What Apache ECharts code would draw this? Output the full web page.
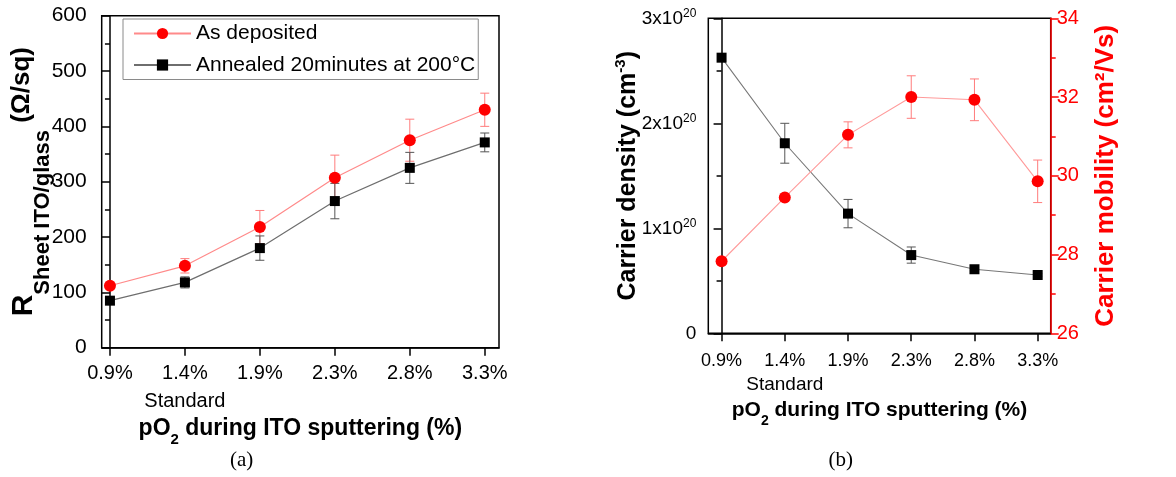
<!DOCTYPE html>
<html>
<head>
<meta charset="utf-8">
<script src="https://cdn.jsdelivr.net/npm/echarts@6/dist/echarts.min.js"></script>
<style>
html,body{margin:0;padding:0;background:#fff;}
#chart{width:1176px;height:477px;}
</style>
</head>
<body>
<div id="chart"></div>
<script>
// ---- data ----
const categories = ['0.9%', '1.4%', '1.9%', '2.3%', '2.8%', '3.3%'];
const categoryNotes = ['', 'Standard', '', '', '', ''];

// (a) sheet resistance (Ω/sq)
const asDeposited = [112, 148, 218, 307, 375, 430];
const asDepositedErr = [5, 13, 30, 41, 38, 30];
const annealed = [85, 118, 180, 265, 325, 371];
const annealedErr = [6, 10, 22, 32, 28, 17];

// (b) carrier density (cm^-3) and mobility (cm²/Vs)
const density = [2.625e20, 1.81e20, 1.14e20, 0.745e20, 0.61e20, 0.555e20];
const densityErr = [0, 0.19e20, 0.135e20, 0.077e20, 0.015e20, 0.012e20];
const mobility = [27.83, 29.45, 31.04, 32.0, 31.93, 29.86];
const mobilityErr = [0, 0, 0.33, 0.54, 0.53, 0.54];

const leftTicks = [0, 100, 200, 300, 400, 500, 600];
const densityTicks = [0, 1e20, 2e20, 3e20];
const mobilityTicks = [26, 28, 30, 32, 34];

// ---- helpers ----
const FONT = "'Liberation Sans', Arial, sans-serif";
const idx = categories.map((_, i) => i);
const pts = (vals) => vals.map((v, i) => [idx[i], v]);
const errPts = (vals, errs) => vals.map((v, i) => [idx[i], v - errs[i], v + errs[i]]);

function errRender(color, capHalf) {
  return function (params, api) {
    const x = api.value(0), lo = api.value(1), hi = api.value(2);
    if (hi - lo <= 0) return null;
    const a = api.coord([x, lo]), b = api.coord([x, hi]);
    const st = { stroke: color, lineWidth: 1 };
    return {
      type: 'group',
      children: [
        { type: 'line', shape: { x1: a[0], y1: a[1], x2: b[0], y2: b[1] }, style: st },
        { type: 'line', shape: { x1: a[0] - capHalf, y1: a[1], x2: a[0] + capHalf, y2: a[1] }, style: st },
        { type: 'line', shape: { x1: b[0] - capHalf, y1: b[1], x2: b[0] + capHalf, y2: b[1] }, style: st }
      ]
    };
  };
}

function xLabelFormatter(v) {
  const i = Math.round(v);
  let s = '{v|' + categories[i] + '}';
  if (categoryNotes[i]) s += '\n{s|' + categoryNotes[i] + '}';
  return s;
}

const chart = echarts.init(document.getElementById('chart'), null, { renderer: 'canvas' });

const option = {
  backgroundColor: '#fff',
  animation: false,
  textStyle: { fontFamily: FONT },
  grid: [
    { left: 101.7, top: 15.7, width: 397.3, height: 332, show: true, borderColor: '#000', borderWidth: 1.5, containLabel: false },
    { left: 708.3, top: 18.3, width: 342.4, height: 315, show: true, borderColor: '#000', borderWidth: 1.5, containLabel: false }
  ],
  legend: {
    data: ['As deposited', 'Annealed 20minutes at 200°C'],
    orient: 'vertical',
    left: 123, top: 19,
    padding: [4, 3, 4, 10],
    itemGap: 10.5,
    itemWidth: 57, itemHeight: 14,
    borderColor: '#8a8a8a', borderWidth: 1,
    textStyle: { fontSize: 21, color: '#000', fontFamily: FONT }
  },
  xAxis: [
    {
      type: 'value', gridIndex: 0, min: -0.11, max: 5.19,
      name: '{b|pO}{s|2}{b| during ITO sputtering (%)}',
      nameLocation: 'middle', nameGap: 69, nameMoveOverlap: false,
      nameTextStyle: {
        rich: {
          b: { fontSize: 23, fontWeight: 'bold', color: '#000', lineHeight: 28, verticalAlign: 'top', fontFamily: FONT },
          s: { fontSize: 15, fontWeight: 'bold', color: '#000', lineHeight: 15, verticalAlign: 'top', padding: [16, 0, 0, 0], fontFamily: FONT }
        }
      },
      splitLine: { show: false },
      axisLine: { show: true, onZero: false, lineStyle: { color: '#000', width: 1.5 } },
      axisTick: { show: true, customValues: idx, length: 8, lineStyle: { color: '#000', width: 1.5 } },
      axisLabel: {
        customValues: idx, margin: 15, formatter: xLabelFormatter,
        rich: {
          v: { fontSize: 20, color: '#000', lineHeight: 22, fontFamily: FONT },
          s: { fontSize: 20, color: '#000', lineHeight: 34, fontFamily: FONT }
        }
      }
    },
    {
      type: 'value', gridIndex: 1, min: -0.21, max: 5.206,
      name: '{b|pO}{s|2}{b| during ITO sputtering (%)}',
      nameLocation: 'middle', nameGap: 66, nameMoveOverlap: false,
      nameTextStyle: {
        rich: {
          b: { fontSize: 21, fontWeight: 'bold', color: '#000', lineHeight: 26, verticalAlign: 'top', fontFamily: FONT },
          s: { fontSize: 14, fontWeight: 'bold', color: '#000', lineHeight: 14, verticalAlign: 'top', padding: [15, 0, 0, 0], fontFamily: FONT }
        }
      },
      splitLine: { show: false },
      axisLine: { show: true, onZero: false, lineStyle: { color: '#000', width: 1.5 } },
      axisTick: { show: true, customValues: idx, length: 8, lineStyle: { color: '#000', width: 1.5 } },
      axisLabel: {
        customValues: idx, margin: 18, formatter: xLabelFormatter,
        rich: {
          v: { fontSize: 18, color: '#000', lineHeight: 20, fontFamily: FONT },
          s: { fontSize: 19, color: '#000', lineHeight: 26, fontFamily: FONT }
        }
      }
    }
  ],
  yAxis: [
    {
      type: 'value', gridIndex: 0, min: leftTicks[0], max: leftTicks[leftTicks.length - 1], interval: 100,
      name: '{R|R}{sub|Sheet ITO/glass}{u| (Ω/sq)}',
      nameLocation: 'middle', nameRotate: 90, nameGap: 63, nameMoveOverlap: false,
      nameTextStyle: {
        rich: {
          R: { fontSize: 30, fontWeight: 'bold', color: '#000', lineHeight: 30, verticalAlign: 'top', fontFamily: FONT },
          sub: { fontSize: 22, fontWeight: 'bold', color: '#000', lineHeight: 22, verticalAlign: 'top', padding: [23, 0, 0, 0], fontFamily: FONT },
          u: { fontSize: 26, fontWeight: 'bold', color: '#000', lineHeight: 30, verticalAlign: 'top', fontFamily: FONT }
        }
      },
      splitLine: { show: false },
      axisLine: { show: true, lineStyle: { color: '#000', width: 1.5 } },
      axisTick: { show: true, length: 8, lineStyle: { color: '#000', width: 1.5 } },
      minorTick: { show: true, splitNumber: 2, length: 5, lineStyle: { color: '#000', width: 1.5 } },
      axisLabel: { fontSize: 21, color: '#000', margin: 15, fontFamily: FONT }
    },
    {
      type: 'value', gridIndex: 1, min: densityTicks[0], max: densityTicks[densityTicks.length - 1], interval: 1e20,
      name: '{m|Carrier density (cm}{sup|-3}{m|)}',
      nameLocation: 'middle', nameRotate: 90, nameGap: 65, nameMoveOverlap: false,
      nameTextStyle: {
        rich: {
          m: { fontSize: 25, fontWeight: 'bold', color: '#000', lineHeight: 30, fontFamily: FONT },
          sup: { fontSize: 15, fontWeight: 'bold', color: '#000', lineHeight: 15, verticalAlign: 'top', fontFamily: FONT }
        }
      },
      splitLine: { show: false },
      axisLine: { show: true, lineStyle: { color: '#000', width: 1.5 } },
      axisTick: { show: true, length: 8, lineStyle: { color: '#000', width: 1.5 } },
      minorTick: { show: true, splitNumber: 2, length: 5, lineStyle: { color: '#000', width: 1.5 } },
      axisLabel: {
        fontSize: 19, color: '#000', margin: 12, fontFamily: FONT,
        formatter: function (v) {
          if (v === 0) return '{a|0}';
          return '{a|' + Math.round(v / 1e20) + 'x10}{s|20}';
        },
        rich: {
          a: { fontSize: 19, color: '#000', lineHeight: 22, fontFamily: FONT },
          s: { fontSize: 12, color: '#000', lineHeight: 12, verticalAlign: 'top', fontFamily: FONT }
        }
      }
    },
    {
      type: 'value', gridIndex: 1, position: 'right', min: mobilityTicks[0], max: mobilityTicks[mobilityTicks.length - 1], interval: 2,
      name: 'Carrier mobility (cm²/Vs)',
      nameLocation: 'middle', nameRotate: 90, nameGap: 42, nameMoveOverlap: false,
      nameTextStyle: { fontSize: 26, fontWeight: 'bold', color: '#ff0000', fontFamily: FONT },
      splitLine: { show: false },
      axisLine: { show: true, lineStyle: { color: '#ff0000', width: 1.5 } },
      axisTick: { show: true, length: 8, lineStyle: { color: '#ff0000', width: 1.5 } },
      minorTick: { show: true, splitNumber: 2, length: 5, lineStyle: { color: '#ff0000', width: 1.5 } },
      axisLabel: { fontSize: 20, color: '#ff0000', margin: 6, fontFamily: FONT }
    }
  ],
  graphic: [
    { type: 'text', x: 241.7, y: 460, style: { text: '(a)', fontSize: 21, fontFamily: "'Liberation Serif', 'Times New Roman', serif", fill: '#000', align: 'center', verticalAlign: 'middle' } },
    { type: 'text', x: 840.7, y: 460, style: { text: '(b)', fontSize: 21, fontFamily: "'Liberation Serif', 'Times New Roman', serif", fill: '#000', align: 'center', verticalAlign: 'middle' } }
  ],
  series: [
    {
      type: 'custom', name: 'As deposited err', xAxisIndex: 0, yAxisIndex: 0, z: 1,
      renderItem: errRender('#ff7c7c', 4.5), data: errPts(asDeposited, asDepositedErr), encode: { x: 0, y: [1, 2] }, silent: true
    },
    {
      type: 'custom', name: 'Annealed err', xAxisIndex: 0, yAxisIndex: 0, z: 1,
      renderItem: errRender('#555555', 4.5), data: errPts(annealed, annealedErr), encode: { x: 0, y: [1, 2] }, silent: true
    },
    {
      type: 'line', name: 'As deposited', xAxisIndex: 0, yAxisIndex: 0, z: 3,
      data: pts(asDeposited), symbol: 'circle', symbolSize: 12,
      itemStyle: { color: '#ff0000' }, lineStyle: { color: '#ff8a8a', width: 1.2 }
    },
    {
      type: 'line', name: 'Annealed 20minutes at 200°C', xAxisIndex: 0, yAxisIndex: 0, z: 2,
      data: pts(annealed), symbol: 'rect', symbolSize: 10,
      itemStyle: { color: '#000000' }, lineStyle: { color: '#6e6e6e', width: 1.2 }
    },
    {
      type: 'custom', name: 'density err', xAxisIndex: 1, yAxisIndex: 1, z: 1,
      renderItem: errRender('#555555', 4.5), data: errPts(density, densityErr), encode: { x: 0, y: [1, 2] }, silent: true
    },
    {
      type: 'custom', name: 'mobility err', xAxisIndex: 1, yAxisIndex: 2, z: 1,
      renderItem: errRender('#ff7c7c', 4.5), data: errPts(mobility, mobilityErr), encode: { x: 0, y: [1, 2] }, silent: true
    },
    {
      type: 'line', name: 'Carrier density', xAxisIndex: 1, yAxisIndex: 1, z: 2,
      data: pts(density), symbol: 'rect', symbolSize: 10,
      itemStyle: { color: '#000000' }, lineStyle: { color: '#777777', width: 1.1 }
    },
    {
      type: 'line', name: 'Carrier mobility', xAxisIndex: 1, yAxisIndex: 2, z: 3,
      data: pts(mobility), symbol: 'circle', symbolSize: 12,
      itemStyle: { color: '#ff0000' }, lineStyle: { color: '#ff9a9a', width: 1.1 }
    }
  ]
};
chart.setOption(option);
</script>
</body>
</html>
